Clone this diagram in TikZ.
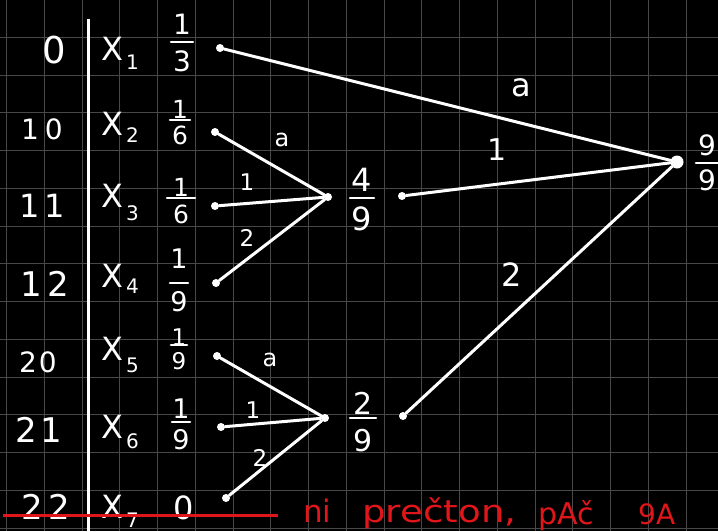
\documentclass[tikz,border=0pt]{standalone}
\usepackage{fontspec}
\usepackage{graphicx}
\setmainfont{DejaVu Sans}
\definecolor{gridc}{HTML}{484848}
\definecolor{redink}{HTML}{E0161A}
\newcommand\fsz[1]{\fontsize{#1}{#1}\selectfont}
\tikzset{
  txt/.style={text=white, inner sep=0pt},
  wire/.style={draw=white, line width=3pt, line cap=round},
  barl/.style={draw=white, line width=2.6pt, line cap=round},
  gridl/.style={draw=gridc, line width=1pt},
  dotn/.style={circle, fill=white, inner sep=0pt, minimum size=8pt},
  bigdot/.style={circle, fill=white, inner sep=0pt, minimum size=13pt},
  redtxt/.style={text=redink, inner sep=0pt, anchor=base west, font=\fsz{31}},
}
% name, x, num y, bar y, den y, half width, num, den, size
\newcommand\frc[9]{%
  \node[txt,font=\fsz{#9}] (#1n) at (#2,#3) {#7};
  \draw[barl] (#2-#6,#4) -- (#2+#6,#4);
  \node[txt,font=\fsz{#9}] (#1d) at (#2,#5) {#8};}
% name, baseline y, subscript, drop
\newcommand\xl[4]{\node[txt,anchor=base west,font=\fsz{32}] (#1) at (101,#2) {X\hspace{3pt}\raisebox{-#4pt}{\fsz{20}#3}};}
\begin{document}
\begin{tikzpicture}[x=1pt,y=-1pt]
\fill[black] (0,0) rectangle (718,531);
\useasboundingbox (0,0) rectangle (718,531);
% grid
\foreach \k in {0,...,18} \draw[gridl] (6.5+37.75*\k,0) -- (6.5+37.75*\k,531);
\foreach \k in {1,...,14} \draw[gridl] (0,-0.5+37.75*\k) -- (718,-0.5+37.75*\k);
% divider
\draw[draw=white, line width=3pt] (88,19) -- (88,531);
% left column
\node[txt,font=\fsz{37}] (c0) at (54,50) {0};
\node[txt,font=\fsz{28}] (c10) at (42,129) {1\hspace{6pt}0};
\node[txt,font=\fsz{32}] (c11) at (42,206) {1\hspace{5pt}1};
\node[txt,font=\fsz{34}] (c12) at (45,284) {1\hspace{5pt}2};
\node[txt,font=\fsz{28}] (c20) at (38,362) {2\hspace{2pt}0};
\node[txt,font=\fsz{34}] (c21) at (39,430) {2\hspace{3pt}1};
\node[txt,font=\fsz{34}] (c22) at (46,507) {2\hspace{6pt}2};
% X labels
\xl{x1}{60}{1}{9}
\xl{x2}{135}{2}{7}
\xl{x3}{207}{3}{13}
\xl{x4}{287}{4}{6}
\xl{x5}{360}{5}{12}
\xl{x6}{438}{6}{10}
\xl{x7}{518}{7}{9}
% fractions
\frc{fa}{182}{24}{42}{61}{11}{1}{3}{28}
\frc{fb}{180}{109}{120}{135}{10}{1}{6}{25}
\frc{fc}{181}{187}{198}{214}{14}{1}{6}{25}
\frc{fd}{179}{259}{283}{302}{9}{1}{9}{27}
\frc{fe}{179}{337}{345}{361}{8}{1}{9}{23}
\frc{ff}{181}{409}{422}{440}{9}{1}{9}{27}
\node[txt,font=\fsz{32}] (fg) at (184,508) {0};
\frc{fm}{362}{180}{198}{219}{12}{4}{9}{32}
\frc{fn}{363}{403}{418}{441}{13}{2}{9}{30}
\frc{fz}{707}{145}{163}{180}{11}{9}{9}{28}
% dots
\node[dotn] (d1) at (220,48) {};
\node[dotn] (d2) at (215,132) {};
\node[dotn] (d3) at (215,206) {};
\node[dotn] (d4) at (216,283) {};
\node[dotn] (d5) at (217,356) {};
\node[dotn] (d6) at (221,427) {};
\node[dotn] (d7) at (226,498) {};
\node[dotn] (m1) at (328,197) {};
\node[dotn] (m2) at (325,418) {};
\node[dotn] (o1) at (402,196) {};
\node[dotn] (o2) at (403,416) {};
\node[bigdot] (big) at (677,162) {};
% connectors
\draw[wire] (d1) -- (big);
\draw[wire] (d2) -- (m1);
\draw[wire] (d3) -- (m1);
\draw[wire] (d4) -- (m1);
\draw[wire] (o1) -- (big);
\draw[wire] (d5) -- (m2);
\draw[wire] (d6) -- (m2);
\draw[wire] (d7) -- (m2);
\draw[wire] (o2) -- (big);
% edge labels
\node[txt,font=\fsz{24}] (la1) at (282,140) {a};
\node[txt,font=\fsz{23}] (l11) at (247,182) {1};
\node[txt,font=\fsz{23}] (l12) at (247,238) {2};
\node[txt,font=\fsz{24}] (la2) at (270,360) {a};
\node[txt,font=\fsz{23}] (l21) at (253,410) {1};
\node[txt,font=\fsz{23}] (l22) at (260,458) {2};
\node[txt,font=\fsz{32}] (lta) at (521,88) {a};
\node[txt,font=\fsz{30}] (lt1) at (497,150) {1};
\node[txt,font=\fsz{32}] (lt2) at (512,275) {2};
% red annotation
\draw[draw=redink, line width=3pt] (3,515.5) -- (278,515.5);
\node[redtxt] (r1) at (303,522) {ni};
\node[redtxt] (r2) at (362,522) {\scalebox{1.2}[1]{prečton,}};
\node[redtxt,font=\fsz{30}] (r3) at (538,524) {pAč};
\node[redtxt,font=\fsz{28}] (r4) at (638,524) {9A};
\end{tikzpicture}
\end{document}
